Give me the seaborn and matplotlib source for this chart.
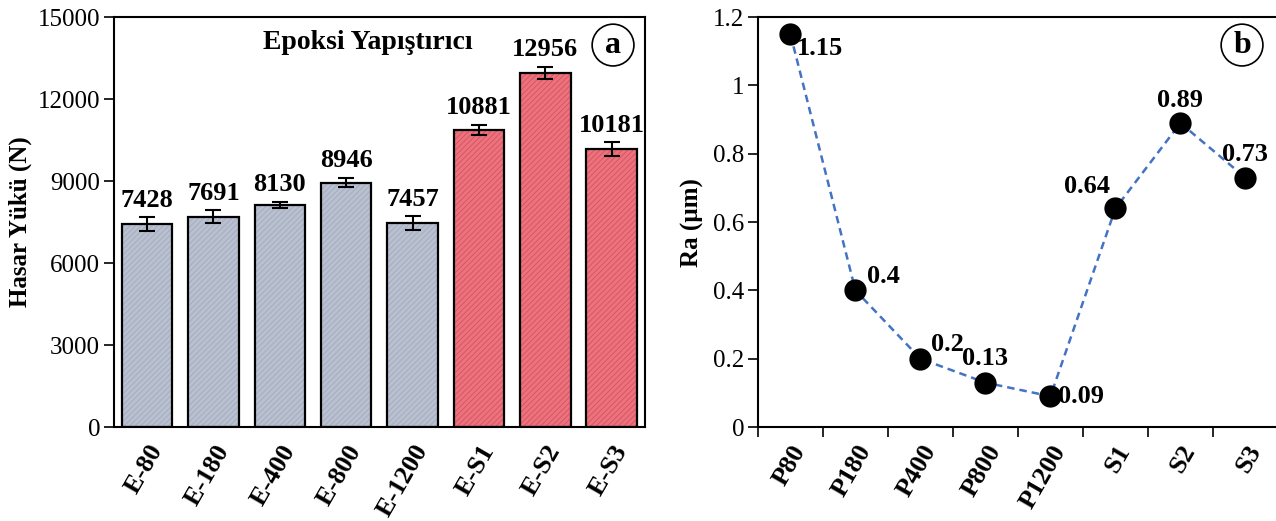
import numpy as np
import matplotlib
matplotlib.use("Agg")
import matplotlib.pyplot as plt
import seaborn as sns

# bar chart data (panel a)
bar_labels = ["E-80", "E-180", "E-400", "E-800", "E-1200", "E-S1", "E-S2", "E-S3"]
bar_values = [7428, 7691, 8130, 8946, 7457, 10881, 12956, 10181]
bar_errors = [250, 240, 110, 170, 250, 180, 230, 250]
bar_groups = ["P", "P", "P", "P", "P", "S", "S", "S"]

# roughness data (panel b)
ra_labels = ["P80", "P180", "P400", "P800", "P1200", "S1", "S2", "S3"]
ra_values = [1.15, 0.4, 0.2, 0.13, 0.09, 0.64, 0.89, 0.73]

sns.set_style("white")
plt.rcParams["font.family"] = ["Liberation Serif", "DejaVu Serif"]
plt.rcParams["hatch.linewidth"] = 0.6
for k in ["text.color", "axes.labelcolor", "xtick.color", "ytick.color"]:
    plt.rcParams[k] = "black"

fig = plt.figure(figsize=(12.76, 5.21), dpi=100)
ax1 = fig.add_axes([0.0893, 0.1804, 0.4161, 0.7866])
ax2 = fig.add_axes([0.594, 0.1804, 0.4075, 0.7866])

#Panel a - bars (hatched fill first, then black outline on top)
colors = {"P": "#b9c0d0", "S": "#ec727e"}
hatch_colors = {"P": "#a2aabd", "S": "#d5525e"}
sns.barplot(x=bar_labels, y=bar_values, hue=bar_groups, palette=colors,
            saturation=1, width=0.76, linewidth=0, legend=False, ax=ax1)
for p, g in zip(ax1.patches, bar_groups):
    p.set_hatch("//////")
    p.set_edgecolor(hatch_colors[g])
sns.barplot(x=bar_labels, y=bar_values, color="black", fill=False,
            width=0.76, linewidth=1.6, ax=ax1)
xs = np.arange(len(bar_labels))
ax1.errorbar(xs, bar_values, yerr=bar_errors, fmt="none", ecolor="black",
             elinewidth=1.5, capsize=6, capthick=1.5)
for x, v, e in zip(xs, bar_values, bar_errors):
    ax1.text(x, v + e + 200, str(v), ha="center", va="bottom",
             fontsize=19, fontweight="bold")

ax1.set_ylim(0, 15000)
ax1.set_yticks([0, 3000, 6000, 9000, 12000, 15000])
ax1.set_xlim(-0.5, 7.5)
ax1.set_ylabel("Hasar Yükü (N)", fontsize=18, fontweight="bold", labelpad=4)
ax1.tick_params(axis="y", direction="out", length=7, width=1.2, labelsize=18, left=True, pad=3)
ax1.tick_params(axis="x", length=0, labelsize=19, pad=10)
for lab in ax1.get_xticklabels():
    lab.set_rotation(60)
    lab.set_fontweight("bold")
    lab.set_ha("right")
    lab.set_rotation_mode("anchor")
for s in ax1.spines.values():
    s.set_color("black")
    s.set_linewidth(1.5)
ax1.text(0.478, 0.939, "Epoksi Yapıştırıcı", transform=ax1.transAxes,
         ha="center", va="center", fontsize=20, fontweight="bold")
ax1.text(0.94, 0.932, "a", transform=ax1.transAxes, ha="center", va="center",
         fontsize=23, fontweight="bold",
         bbox=dict(boxstyle="circle,pad=0.2", fc="white", ec="black", lw=1.2))

#Panel b - roughness
sns.lineplot(x=ra_labels, y=ra_values, color="#4472c4", linestyle=(0, (3, 2)),
             linewidth=1.8, sort=False, ax=ax2)
sns.scatterplot(x=ra_labels, y=ra_values, color="black", s=220,
                edgecolor="black", zorder=3, ax=ax2)

offsets = [(30, -14), (28, 14), (27, 14), (0, 24), (31, 0), (-28, 22), (0, 23), (0, 23)]
for i, (v, (dx, dy)) in enumerate(zip(ra_values, offsets)):
    ax2.annotate(f"{v:g}", (i, v), xytext=(dx * 0.72, dy * 0.72),
                 textcoords="offset points", ha="center", va="center",
                 fontsize=19, fontweight="bold")

ax2.set_xlim(-0.5, 7.5)
ax2.set_ylim(0, 1.2)
ax2.set_yticks([0, 0.2, 0.4, 0.6, 0.8, 1.0, 1.2])
ax2.set_yticklabels(["0", "0.2", "0.4", "0.6", "0.8", "1", "1.2"])
ax2.set_xticks(np.arange(-0.5, 8, 1))
ax2.set_xticklabels([""] * 9)
ax2.set_xticks(np.arange(8), minor=True)
ax2.set_xticklabels(ra_labels, minor=True, fontweight="bold", rotation=60,
                    ha="right", rotation_mode="anchor")
ax2.tick_params(axis="x", which="major", direction="out", length=7, width=1.2, bottom=True)
ax2.tick_params(axis="x", which="minor", length=0, labelsize=19, pad=10)
ax2.tick_params(axis="y", direction="out", length=7, width=1.2, labelsize=18, left=True, pad=3)
ax2.set_ylabel("Ra (µm)", fontsize=18, fontweight="bold", labelpad=6)
for s in ax2.spines.values():
    s.set_color("black")
    s.set_linewidth(1.5)
ax2.text(0.931, 0.932, "b", transform=ax2.transAxes, ha="center", va="center",
         fontsize=23, fontweight="bold",
         bbox=dict(boxstyle="circle,pad=0.2", fc="white", ec="black", lw=1.2))

fig.savefig("out.png", dpi=100)
